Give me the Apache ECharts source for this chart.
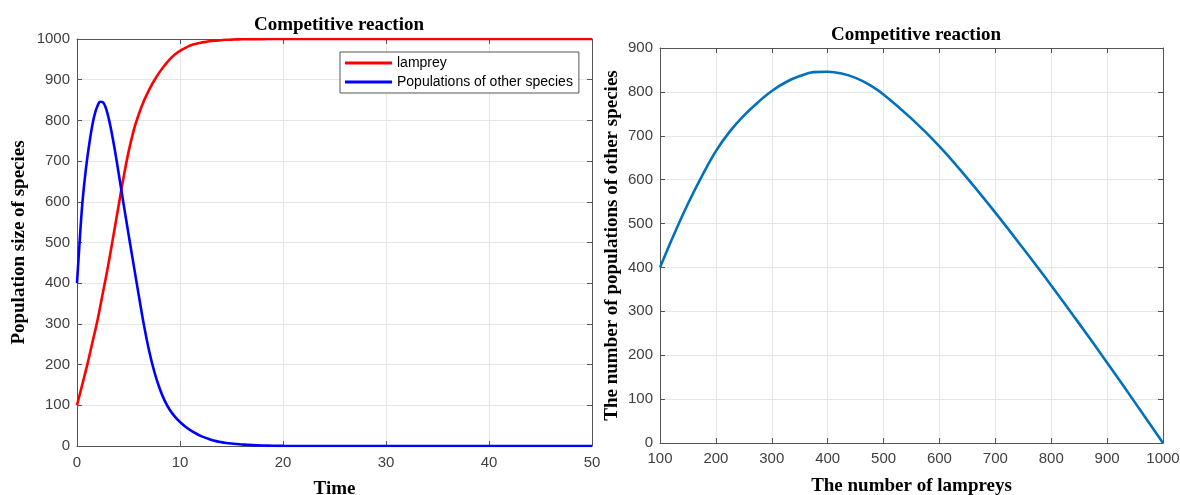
<!DOCTYPE html>
<html>
<head>
<meta charset="utf-8">
<script src="https://cdn.jsdelivr.net/npm/echarts@6/dist/echarts.min.js"></script>
<style>
  html, body { margin: 0; padding: 0; background: #fff; }
  #chart { width: 1180px; height: 495px; }
</style>
</head>
<body>
<div id="chart"></div>
<script>
// Left panel: lamprey population over time
const lampreyTime = [0, 0.5, 1, 1.5, 2, 2.5, 3, 3.5, 4, 4.5, 5, 5.5, 6, 6.5, 7, 7.5, 8, 8.5, 9, 9.5, 10,
    10.5, 11, 11.5, 12, 12.5, 13, 13.5, 14, 14.5, 15, 15.5, 16, 17, 18, 19, 20, 25, 30, 35, 40, 45, 50];
const lampreyVals = [100, 150, 200, 255, 310, 375, 440, 512, 585, 657, 722, 775, 815, 848, 875, 898, 918, 935, 950, 962, 971,
    978, 984, 988, 991, 993, 995, 996, 997, 998, 998.5, 999, 999.3, 999.6, 999.8, 1000, 1000, 1000, 1000, 1000, 1000, 1000, 1000];

// Left panel: other species over time
const otherTime = [0, 0.25, 0.5, 0.75, 1, 1.25, 1.5, 1.75, 2, 2.25, 2.5, 2.75, 3, 3.25, 3.5, 3.75, 4,
    4.5, 5, 5.5, 6, 6.5, 7, 7.5, 8, 8.5, 9, 9.5, 10, 10.5, 11, 11.5, 12, 12.5, 13, 13.5, 14, 14.5, 15, 15.5, 16,
    17, 18, 19, 20, 25, 30, 35, 40, 45, 50];
const otherVals = [400, 500, 590, 655, 708, 752, 790, 818, 836, 846, 845, 834, 813, 785, 752, 716, 677,
    598, 521, 445, 370, 297, 234, 183, 143, 112, 89, 72, 59, 48, 39, 31.5, 25, 20, 15.5, 12, 9.5, 7.5, 6, 4.8, 3.8,
    2.2, 1.2, 0.6, 0.3, 0, 0, 0, 0, 0, 0];

// Right panel: phase plot
const lampreyCount = [100, 125, 150, 175, 200, 225, 250, 275, 300, 325, 350, 375, 400, 425, 450, 475, 500,
    550, 600, 650, 700, 750, 800, 850, 900, 950, 1000];
const otherCount = [400, 475, 545, 608, 665, 710, 746, 776, 802, 822, 836, 845, 846, 842, 832, 816, 794,
    739, 676, 603, 525, 443, 359, 272, 183, 92, 0];

const pairs = (xs, ys) => xs.map((x, i) => [x, ys[i]]);

const serif = '"Liberation Serif", "DejaVu Serif", serif';
const sans = '"Liberation Sans", Arial, sans-serif';
const axisColor = '#555';
const gridColor = '#e6e6e6';

function mainAxis(gridIndex, min, max, interval, name, gap, margin) {
    return {
        type: 'value', gridIndex, min, max, interval,
        name, nameLocation: 'middle', nameGap: gap,
        nameTextStyle: { fontFamily: serif, fontWeight: 'bold', fontSize: 19, color: '#000' },
        axisLine: { show: true, onZero: false, lineStyle: { color: axisColor, width: 1 } },
        axisTick: { show: true, inside: true, length: 5, lineStyle: { color: axisColor } },
        axisLabel: { fontFamily: sans, fontSize: 15, color: '#404040', margin, formatter: v => String(v) },
        splitLine: { show: true, lineStyle: { color: gridColor, width: 1 } }
    };
}

function boxAxis(gridIndex, min, max, interval, position) {
    return {
        type: 'value', gridIndex, min, max, interval, position,
        axisLine: { show: true, onZero: false, lineStyle: { color: axisColor, width: 1 } },
        axisTick: { show: true, inside: true, length: 5, lineStyle: { color: axisColor } },
        axisLabel: { show: false },
        splitLine: { show: false }
    };
}

const chart = echarts.init(document.getElementById('chart'));

chart.setOption({
    animation: false,
    backgroundColor: '#fff',
    title: [
        {
            text: 'Competitive reaction', left: 334, top: 11, textAlign: 'center',
            textStyle: { fontFamily: serif, fontWeight: 'bold', fontSize: 19, color: '#000' }
        },
        {
            text: 'Competitive reaction', left: 911, top: 21, textAlign: 'center',
            textStyle: { fontFamily: serif, fontWeight: 'bold', fontSize: 19, color: '#000' }
        }
    ],
    legend: {
        data: ['lamprey', 'Populations of other species'],
        orient: 'vertical',
        left: 340, top: 52,
        icon: 'rect',
        itemWidth: 47, itemHeight: 3, itemGap: 5,
        padding: [4, 6, 4, 5],
        borderColor: '#555', borderWidth: 1,
        backgroundColor: '#fff',
        textStyle: { fontFamily: sans, fontSize: 14, lineHeight: 14, color: '#000' }
    },
    grid: [
        { left: 77, right: 588, top: 39, bottom: 49, outerBoundsMode: 'none' },
        { left: 660, right: 17, top: 48, bottom: 52, outerBoundsMode: 'none' }
    ],
    xAxis: [
        mainAxis(0, 0, 50, 10, 'Time', 34, 9),
        boxAxis(0, 0, 50, 10, 'top'),
        mainAxis(1, 100, 1000, 100, 'The number of lampreys', 34, 8),
        boxAxis(1, 100, 1000, 100, 'top')
    ],
    yAxis: [
        mainAxis(0, 0, 1000, 100, 'Population size of species', 48, 7),
        boxAxis(0, 0, 1000, 100, 'right'),
        mainAxis(1, 0, 900, 100, 'The number of populations of other species', 38, 7),
        boxAxis(1, 0, 900, 100, 'right')
    ],
    series: [
        {
            name: 'lamprey', type: 'line', xAxisIndex: 0, yAxisIndex: 0,
            data: pairs(lampreyTime, lampreyVals),
            smooth: 0.4, symbol: 'none',
            lineStyle: { color: '#ff0000', width: 2.6 }, itemStyle: { color: '#ff0000' }
        },
        {
            name: 'Populations of other species', type: 'line', xAxisIndex: 0, yAxisIndex: 0,
            data: pairs(otherTime, otherVals),
            smooth: 0.4, symbol: 'none',
            lineStyle: { color: '#0000ff', width: 2.6 }, itemStyle: { color: '#0000ff' }
        },
        {
            name: 'phase', type: 'line', xAxisIndex: 2, yAxisIndex: 2,
            data: pairs(lampreyCount, otherCount),
            smooth: 0.4, symbol: 'none',
            lineStyle: { color: '#0072bd', width: 2.6 }, itemStyle: { color: '#0072bd' }
        }
    ]
});
</script>
</body>
</html>
